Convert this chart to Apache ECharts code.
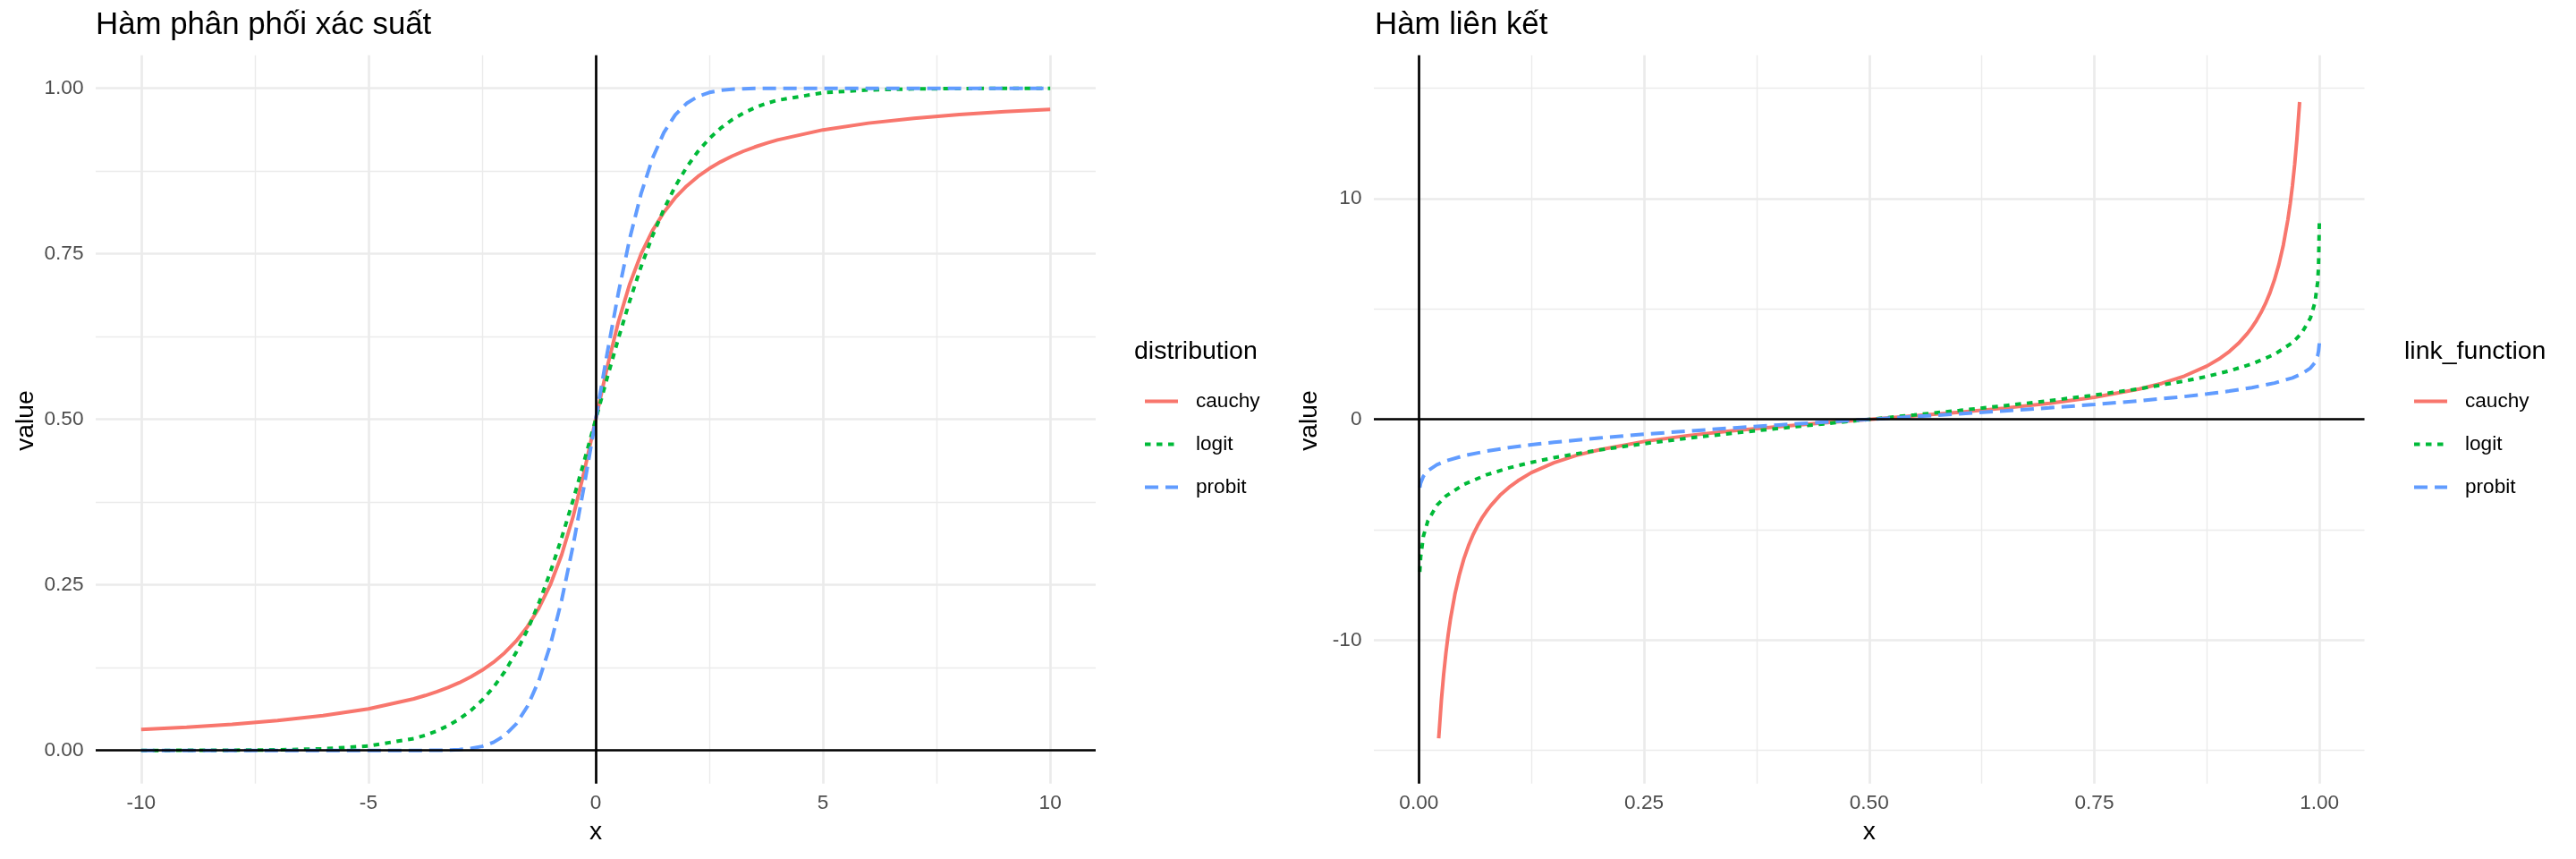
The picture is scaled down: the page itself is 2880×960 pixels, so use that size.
<!DOCTYPE html>
<html>
<head>
<meta charset="utf-8">
<script src="https://cdn.jsdelivr.net/npm/echarts@6/dist/echarts.min.js"></script>
<style>
html,body{margin:0;padding:0;background:#fff;}
#chart{width:2880px;height:960px;}
</style>
</head>
<body>
<div id="chart"></div>
<script>
// ---------- Data ----------
const seriesNames = ['cauchy', 'logit', 'probit'];

// Left panel: distribution functions
const cdfX = [-10,-9,-8,-7,-6,-5,-4,-3.75,-3.5,-3.25,-3,-2.75,-2.5,-2.25,-2,-1.75,-1.5,-1.25,-1,-0.75,-0.5,-0.25,0,0.25,0.5,0.75,1,1.25,1.5,1.75,2,2.25,2.5,2.75,3,3.25,3.5,3.75,4,5,6,7,8,9,10];
const cauchyCdf = [0.0317,0.0352,0.0396,0.0452,0.0526,0.0628,0.0780,0.0830,0.0886,0.0950,0.1024,0.1110,0.1211,0.1331,0.1476,0.1652,0.1872,0.2148,0.25,0.2952,0.3524,0.4220,0.5,0.5780,0.6476,0.7048,0.75,0.7852,0.8128,0.8348,0.8524,0.8669,0.8789,0.8890,0.8976,0.9050,0.9114,0.9170,0.9220,0.9372,0.9474,0.9548,0.9604,0.9648,0.9683];
const logitCdf = [0.00005,0.00012,0.00034,0.00091,0.00247,0.00669,0.01799,0.02298,0.02931,0.03733,0.04743,0.06009,0.07586,0.09535,0.11920,0.14805,0.18243,0.22270,0.26894,0.32082,0.37754,0.43782,0.5,0.56218,0.62246,0.67918,0.73106,0.77730,0.81757,0.85195,0.88080,0.90465,0.92414,0.93991,0.95257,0.96267,0.97069,0.97702,0.98201,0.99331,0.99753,0.99909,0.99966,0.99988,0.99995];
const probitCdf = [0,0,0,0,0,0,0.00003,0.00009,0.00023,0.00058,0.00135,0.00298,0.00621,0.01222,0.02275,0.04006,0.06681,0.10565,0.15866,0.22663,0.30854,0.40129,0.5,0.59871,0.69146,0.77337,0.84134,0.89435,0.93319,0.95994,0.97725,0.98778,0.99379,0.99702,0.99865,0.99942,0.99977,0.99991,0.99997,1,1,1,1,1,1];

// Right panel: link functions
const cauchyLinkX = [0.022,0.025,0.0275,0.03,0.0325,0.035,0.04,0.045,0.05,0.055,0.06,0.065,0.07,0.075,0.08,0.09,0.1,0.11,0.125,0.15,0.175,0.2,0.25,0.3,0.35,0.4,0.45,0.5,0.55,0.6,0.65,0.7,0.75,0.8,0.825,0.85,0.875,0.89,0.9,0.91,0.92,0.925,0.93,0.935,0.94,0.945,0.95,0.955,0.96,0.965,0.9675,0.97,0.9725,0.975,0.978];
const cauchyLink = [-14.45,-12.71,-11.55,-10.58,-9.76,-9.06,-7.92,-7.03,-6.31,-5.73,-5.24,-4.83,-4.47,-4.17,-3.90,-3.44,-3.08,-2.78,-2.41,-1.96,-1.63,-1.38,-1,-0.727,-0.510,-0.325,-0.158,0,0.158,0.325,0.510,0.727,1,1.376,1.632,1.963,2.414,2.778,3.078,3.442,3.895,4.165,4.474,4.829,5.242,5.730,6.314,7.026,7.916,9.058,9.760,10.579,11.546,12.706,14.38];
const linkX = [0.001,0.002,0.005,0.01,0.02,0.03,0.05,0.075,0.1,0.125,0.15,0.2,0.25,0.3,0.35,0.4,0.45,0.5,0.55,0.6,0.65,0.7,0.75,0.8,0.85,0.875,0.9,0.925,0.95,0.97,0.98,0.99,0.995,0.998,0.999,0.9999];
const logitLink = [-6.907,-6.213,-5.293,-4.595,-3.892,-3.476,-2.944,-2.512,-2.197,-1.946,-1.735,-1.386,-1.099,-0.847,-0.619,-0.405,-0.201,0,0.201,0.405,0.619,0.847,1.099,1.386,1.735,1.946,2.197,2.512,2.944,3.476,3.892,4.595,5.293,6.213,6.907,8.95];
const probitLink = [-3.090,-2.878,-2.576,-2.326,-2.054,-1.881,-1.645,-1.440,-1.282,-1.150,-1.036,-0.842,-0.674,-0.524,-0.385,-0.253,-0.126,0,0.126,0.253,0.385,0.524,0.674,0.842,1.036,1.150,1.282,1.440,1.645,1.881,2.054,2.326,2.576,2.878,3.090,3.45];

// Tick labels / gridline positions
const leftXMajor = [-10, -5, 0, 5, 10];
const leftXMinor = [-7.5, -2.5, 2.5, 7.5];
const leftYMajor = [0, 0.25, 0.5, 0.75, 1];
const leftYMinor = [0.125, 0.375, 0.625, 0.875];
const rightXMajor = [0, 0.25, 0.5, 0.75, 1];
const rightXMinor = [0.125, 0.375, 0.625, 0.875];
const rightYMajor = [-10, 0, 10];
const rightYMinor = [-15, -5, 5, 15];

// ---------- Styling ----------
const FONT = '"Liberation Sans", Arial, Helvetica, sans-serif';
const colors = { cauchy: '#F8766D', logit: '#00BA38', probit: '#619CFF' };
const dashes = { cauchy: 'solid', logit: [6.5, 6.5], probit: [15, 8] };
const GRID_COLOR = '#EBEBEB';
const TICK_COLOR = '#4D4D4D';
const LINE_W = 4;

function zip(xs, ys) { return xs.map((x, i) => [x, ys[i]]); }

function majorAxis(gridIndex, min, max, values, fmt, isX) {
  return {
    type: 'value', gridIndex, min, max,
    position: isX ? 'bottom' : 'left',
    axisLine: { show: false },
    axisTick: { show: false, customValues: values },
    axisLabel: {
      show: true, customValues: values, formatter: fmt,
      color: TICK_COLOR, fontSize: 22.6, fontFamily: FONT,
      margin: isX ? 11 : 13.5
    },
    splitLine: { show: true, lineStyle: { color: GRID_COLOR, width: 2.7 } },
    z: 1
  };
}
function minorAxis(gridIndex, min, max, values, isX) {
  return {
    type: 'value', gridIndex, min, max,
    position: isX ? 'bottom' : 'left',
    axisLine: { show: false },
    axisTick: { show: false, customValues: values },
    axisLabel: { show: false },
    splitLine: { show: true, lineStyle: { color: GRID_COLOR, width: 1.4 } },
    z: 0
  };
}

const zeroLines = {
  silent: true,
  symbol: ['none', 'none'],
  label: { show: false },
  emphasis: { disabled: true },
  lineStyle: { color: '#000', width: 2.7, type: 'solid' },
  data: [{ xAxis: 0 }, { yAxis: 0 }]
};

function lineSeries(name, data, xi, yi, withZero) {
  const s = {
    name, type: 'line', data,
    xAxisIndex: xi, yAxisIndex: yi,
    showSymbol: false, symbol: 'none',
    clip: true,
    lineStyle: { color: colors[name], width: LINE_W, type: dashes[name], cap: 'butt' },
    itemStyle: { color: colors[name] },
    emphasis: { disabled: true },
    z: 3
  };
  if (withZero) s.markLine = zeroLines;
  return s;
}

const fmt2 = v => v.toFixed(2);
const fmtInt = v => String(v);

const chart = echarts.init(document.getElementById('chart'), null, { renderer: 'canvas' });

const legendCommon = {
  orient: 'vertical',
  itemWidth: 37, itemHeight: 22, itemGap: 25,
  selectedMode: false,
  itemStyle: { color: 'rgba(0,0,0,0)', borderColor: 'rgba(0,0,0,0)', borderWidth: 0 },
  lineStyle: { width: LINE_W, opacity: 1 },
  textStyle: { fontSize: 22.6, fontFamily: FONT, color: '#000', padding: [0, 0, 0, 15] },
  data: seriesNames
};

const option = {
  animation: false,
  backgroundColor: '#fff',
  textStyle: { fontFamily: FONT },
  grid: [
    { left: 107, top: 61.7, width: 1118, height: 814, containLabel: false },
    { left: 1536, top: 61.7, width: 1107.5, height: 814, containLabel: false }
  ],
  xAxis: [
    minorAxis(0, -11, 11, leftXMinor, true),
    majorAxis(0, -11, 11, leftXMajor, fmtInt, true),
    minorAxis(1, -0.05, 1.05, rightXMinor, true),
    majorAxis(1, -0.05, 1.05, rightXMajor, fmt2, true)
  ],
  yAxis: [
    minorAxis(0, -0.05, 1.05, leftYMinor, false),
    majorAxis(0, -0.05, 1.05, leftYMajor, fmt2, false),
    minorAxis(1, -16.5, 16.5, rightYMinor, false),
    majorAxis(1, -16.5, 16.5, rightYMajor, fmtInt, false)
  ],
  legend: [
    Object.assign({}, legendCommon, { left: 1273, top: 432 }),
    Object.assign({}, legendCommon, { left: 2692, top: 432 })
  ],
  series: [
    lineSeries('cauchy', zip(cdfX, cauchyCdf), 1, 1, true),
    lineSeries('logit', zip(cdfX, logitCdf), 1, 1, false),
    lineSeries('probit', zip(cdfX, probitCdf), 1, 1, false),
    lineSeries('cauchy', zip(cauchyLinkX, cauchyLink), 3, 3, true),
    lineSeries('logit', zip(linkX, logitLink), 3, 3, false),
    lineSeries('probit', zip(linkX, probitLink), 3, 3, false)
  ],
  graphic: [
    { type: 'text', x: 107, y: 28, style: { text: 'Hàm phân phối xác suất', fontSize: 34.8, fontFamily: FONT, fill: '#000', align: 'left', verticalAlign: 'middle' } },
    { type: 'text', x: 1537, y: 28, style: { text: 'Hàm liên kết', fontSize: 34.8, fontFamily: FONT, fill: '#000', align: 'left', verticalAlign: 'middle' } },
    { type: 'text', x: 666, y: 930, style: { text: 'x', fontSize: 28.3, fontFamily: FONT, fill: '#000', align: 'center', verticalAlign: 'middle' } },
    { type: 'text', x: 2089.7, y: 930, style: { text: 'x', fontSize: 28.3, fontFamily: FONT, fill: '#000', align: 'center', verticalAlign: 'middle' } },
    { type: 'text', x: 29, y: 470, rotation: Math.PI / 2, style: { text: 'value', fontSize: 28.3, fontFamily: FONT, fill: '#000', align: 'center', verticalAlign: 'middle' } },
    { type: 'text', x: 1464, y: 470, rotation: Math.PI / 2, style: { text: 'value', fontSize: 28.3, fontFamily: FONT, fill: '#000', align: 'center', verticalAlign: 'middle' } },
    { type: 'text', x: 1268, y: 393.4, style: { text: 'distribution', fontSize: 28.5, fontFamily: FONT, fill: '#000', align: 'left', verticalAlign: 'middle' } },
    { type: 'text', x: 2688, y: 393.4, style: { text: 'link_function', fontSize: 28.5, fontFamily: FONT, fill: '#000', align: 'left', verticalAlign: 'middle' } }
  ]
};
chart.setOption(option);
</script>
</body>
</html>
